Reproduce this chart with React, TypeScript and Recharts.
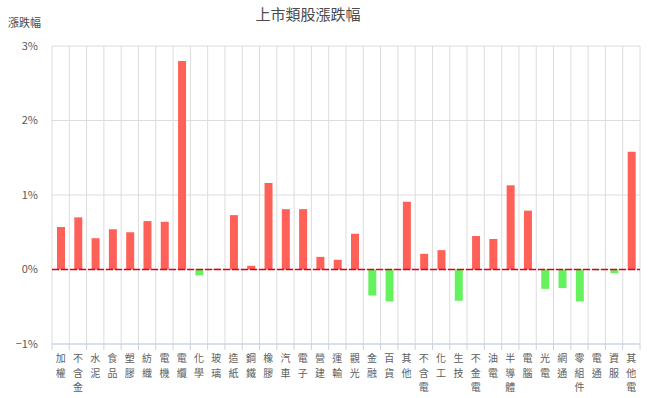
import { BarChart, Bar, XAxis, YAxis, CartesianGrid, ReferenceLine, Cell } from "recharts";

const categories = [
  "加權", "不含金", "水泥", "食品", "塑膠", "紡織", "電機", "電纜", "化學", "玻璃",
  "造紙", "鋼鐵", "橡膠", "汽車", "電子", "營建", "運輸", "觀光", "金融", "百貨",
  "其他", "不含電", "化工", "生技", "不金電", "油電", "半導體", "電腦", "光電", "網通",
  "零組件", "電通", "資服", "其他電",
];

// 漲跌幅 (%)
const changes = [
  0.57, 0.70, 0.42, 0.54, 0.50, 0.65, 0.64, 2.80, -0.08, 0.01,
  0.73, 0.05, 1.16, 0.81, 0.81, 0.17, 0.13, 0.48, -0.35, -0.43,
  0.91, 0.21, 0.26, -0.42, 0.45, 0.41, 1.13, 0.79, -0.26, -0.25,
  -0.43, -0.01, -0.05, 1.58,
];

const yTicks = [-1, 0, 1, 2, 3];

const data = categories.map((name, i) => ({ name, value: changes[i] }));

const FONT = '"Noto Sans CJK TC", "Noto Sans", sans-serif';
const UP = "#ff6159";
const DOWN = "#66f25f";
const BAND = 588 / categories.length;

// category label written top to bottom, one character per line
function VerticalTick(props: any) {
  const { x, y, payload, index } = props;
  const chars = String(payload.value).split("");
  const isLast = index === categories.length - 1;
  return (
    <g>
      <line x1={x - BAND / 2} x2={x - BAND / 2} y1={y - 8} y2={y - 2} stroke="#c5d3ea" />
      {isLast && (
        <line x1={x + BAND / 2} x2={x + BAND / 2} y1={y - 8} y2={y - 2} stroke="#c5d3ea" />
      )}
      {chars.map((c, i) => (
        <text key={i} x={x} y={y + 10 + i * 14.5} textAnchor="middle" fill="#606060" fontSize={10} fontFamily={FONT}>
          {c}
        </text>
      ))}
    </g>
  );
}

export default function App() {
  return (
    <div style={{ position: "absolute", left: 0, top: 0, width: 661, height: 398, background: "#fff", fontFamily: FONT }}>
      <div style={{ position: "absolute", left: 0, width: 616, top: 3, textAlign: "center", fontSize: 15, color: "#4a4a4a" }}>
        上市類股漲跌幅
      </div>
      <div style={{ position: "absolute", left: 8, top: 14, fontSize: 11, color: "#4a4a4a" }}>漲跌幅</div>
      <BarChart
        width={661}
        height={398}
        data={data}
        margin={{ top: 46, right: 21, left: 0, bottom: 0 }}
      >
        <CartesianGrid
          stroke="#dcdcdc"
          verticalCoordinatesGenerator={({ offset }: any) =>
            Array.from({ length: categories.length + 1 }, (_, i) => offset.left + (i * offset.width) / categories.length)
          }
        />
        <XAxis
          dataKey="name"
          interval={0}
          height={54}
          tickLine={false}
          axisLine={{ stroke: "#c5d3ea" }}
          tick={<VerticalTick />}
        />
        <YAxis
          width={52}
          domain={[-1, 3]}
          ticks={yTicks}
          axisLine={false}
          tickLine={false}
          tickSize={0}
          tickMargin={14}
          tickFormatter={(v: number) => (v < 0 ? `−${Math.abs(v)}%` : `${v}%`)}
          tick={{ fill: "#595959", fontSize: 11, fontFamily: FONT }}
        />
        <ReferenceLine y={0} stroke="#d9001b" strokeWidth={1.5} strokeDasharray="7 2" />
        <Bar dataKey="value" barSize={8} isAnimationActive={false}>
          {data.map((d, i) => (
            <Cell key={i} fill={d.value >= 0 ? UP : DOWN} />
          ))}
        </Bar>
      </BarChart>
    </div>
  );
}
